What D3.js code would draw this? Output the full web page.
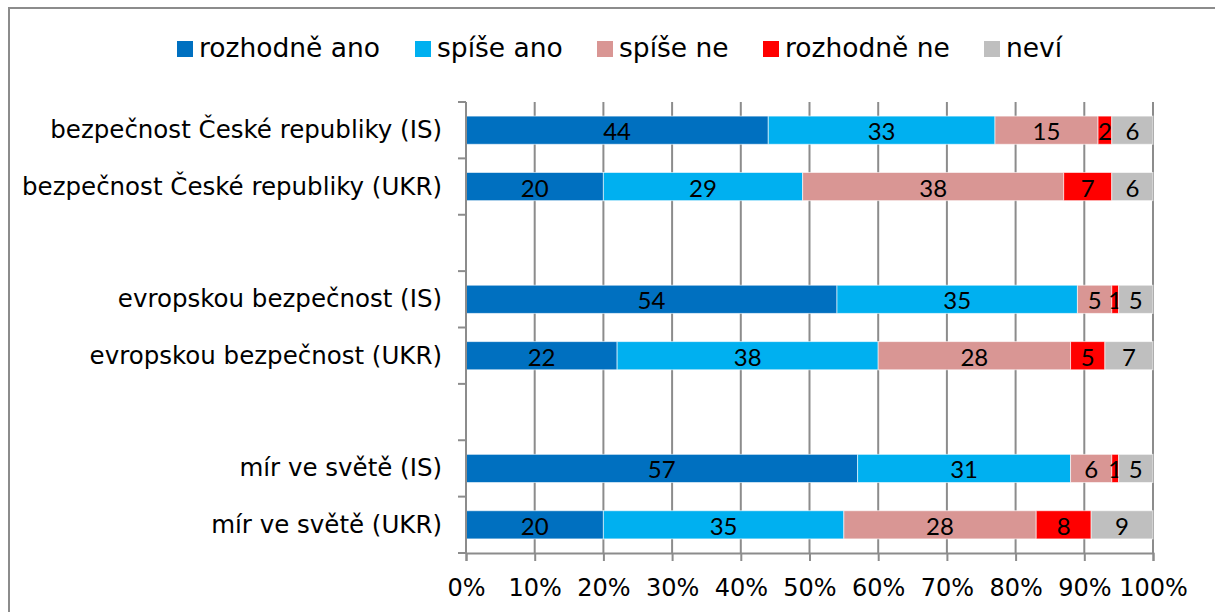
<!DOCTYPE html>
<html><head><meta charset="utf-8">
<script src="https://cdn.jsdelivr.net/npm/d3@7"></script>
<style>body{margin:0;background:#fff}svg{display:block}</style>
</head><body>
<svg id="c" width="1215" height="612"></svg>
<script>
const categories = ["bezpečnost České republiky (IS)","bezpečnost České republiky (UKR)","","evropskou bezpečnost (IS)","evropskou bezpečnost (UKR)"," ","mír ve světě (IS)","mír ve světě (UKR)"];
const seriesNames = ["rozhodně ano","spíše ano","spíše ne","rozhodně ne","neví"];
const colors = ["#0070C0","#00B0F0","#D99694","#FF0000","#BFBFBF"];
const rozhodneAno = [44,20,null,54,22,null,57,20];
const spiseAno    = [33,29,null,35,38,null,31,35];
const spiseNe     = [15,38,null,5,28,null,6,28];
const rozhodneNe  = [2,7,null,1,5,null,1,8];
const nevi        = [6,6,null,5,7,null,5,9];
const tickLabels = ["0%","10%","20%","30%","40%","50%","60%","70%","80%","90%","100%"];

(function(){
const seriesVals = [rozhodneAno,spiseAno,spiseNe,rozhodneNe,nevi];
const svg = d3.select("#c");
const pL = 466, pR = 1153, pT = 102, pB = 553;
const x = d3.scaleLinear().domain([0,100]).range([pL,pR]);
const y = d3.scaleBand().domain(categories).range([pT,pB]).paddingInner(0.5).paddingOuter(0.25);
const labelFont = "'DejaVu Sans', sans-serif";
const dataFont = "'Lato', sans-serif";

// frame
svg.append("rect").attr("x",9).attr("y",8).attr("width",1220).attr("height",620)
  .attr("fill","none").attr("stroke","#8c8c8c").attr("stroke-width",2);

// gridlines
svg.append("g").selectAll("line").data(d3.range(1,11).map(i=>i*10)).join("line")
  .attr("x1",d=>x(d)).attr("x2",d=>x(d)).attr("y1",pT).attr("y2",pB)
  .attr("stroke","#8c8c8c").attr("stroke-width",2);

// bars
const rows = categories.map((c,i)=>({c,i})).filter(r=>rozhodneAno[r.i]!=null);
rows.forEach(r=>{
  let acc = 0;
  seriesVals.forEach((s,si)=>{
    const v = s[r.i];
    svg.append("rect").attr("x",x(acc)).attr("y",y(r.c)).attr("width",x(acc+v)-x(acc)).attr("height",y.bandwidth())
      .attr("fill",colors[si]).attr("stroke","rgba(255,255,255,0.6)").attr("stroke-width",1);
    svg.append("text").attr("x",(x(acc)+x(acc+v))/2).attr("y",y(r.c)+y.bandwidth()/2+10)
      .attr("text-anchor","middle").attr("font-family",dataFont).attr("font-size",24).attr("fill","#000").text(v);
    acc += v;
  });
});

// y axis
const ya = svg.append("g");
ya.append("line").attr("x1",pL).attr("x2",pL).attr("y1",pT).attr("y2",pB).attr("stroke","#8c8c8c").attr("stroke-width",2);
ya.selectAll("line.t").data(d3.range(0,categories.length+1)).join("line").attr("class","t")
  .attr("x1",pL-8).attr("x2",pL).attr("y1",d=>pT+d*(pB-pT)/categories.length).attr("y2",d=>pT+d*(pB-pT)/categories.length)
  .attr("stroke","#8c8c8c").attr("stroke-width",2);
ya.selectAll("text").data(categories.filter(c=>c.trim()!=="")).join("text")
  .attr("x",pL-24).attr("y",d=>y(d)+y.bandwidth()/2+8).attr("text-anchor","end")
  .attr("font-family",labelFont).attr("font-size",24.5).attr("fill","#000").text(d=>d);

// x axis
const xa = svg.append("g").attr("transform",`translate(0,${pB})`)
  .call(d3.axisBottom(x).tickValues(d3.range(0,101,10)).tickFormat((d,i)=>tickLabels[i]).tickSize(8).tickPadding(18));
xa.select(".domain").attr("stroke","#8c8c8c").attr("stroke-width",2);
xa.selectAll(".tick line").attr("stroke","#8c8c8c").attr("stroke-width",2);
xa.selectAll(".tick text").attr("font-family",labelFont).attr("font-size",24).attr("fill","#000");

// legend
const legX = [177,415,597,763,984];
const lg = svg.append("g");
seriesNames.forEach((n,i)=>{
  lg.append("rect").attr("x",legX[i]).attr("y",41).attr("width",16).attr("height",16).attr("fill",colors[i]);
  lg.append("text").attr("x",legX[i]+22).attr("y",57).attr("font-family",labelFont).attr("font-size",26.5).attr("fill","#000").text(n);
});
})();
</script>
</body></html>
